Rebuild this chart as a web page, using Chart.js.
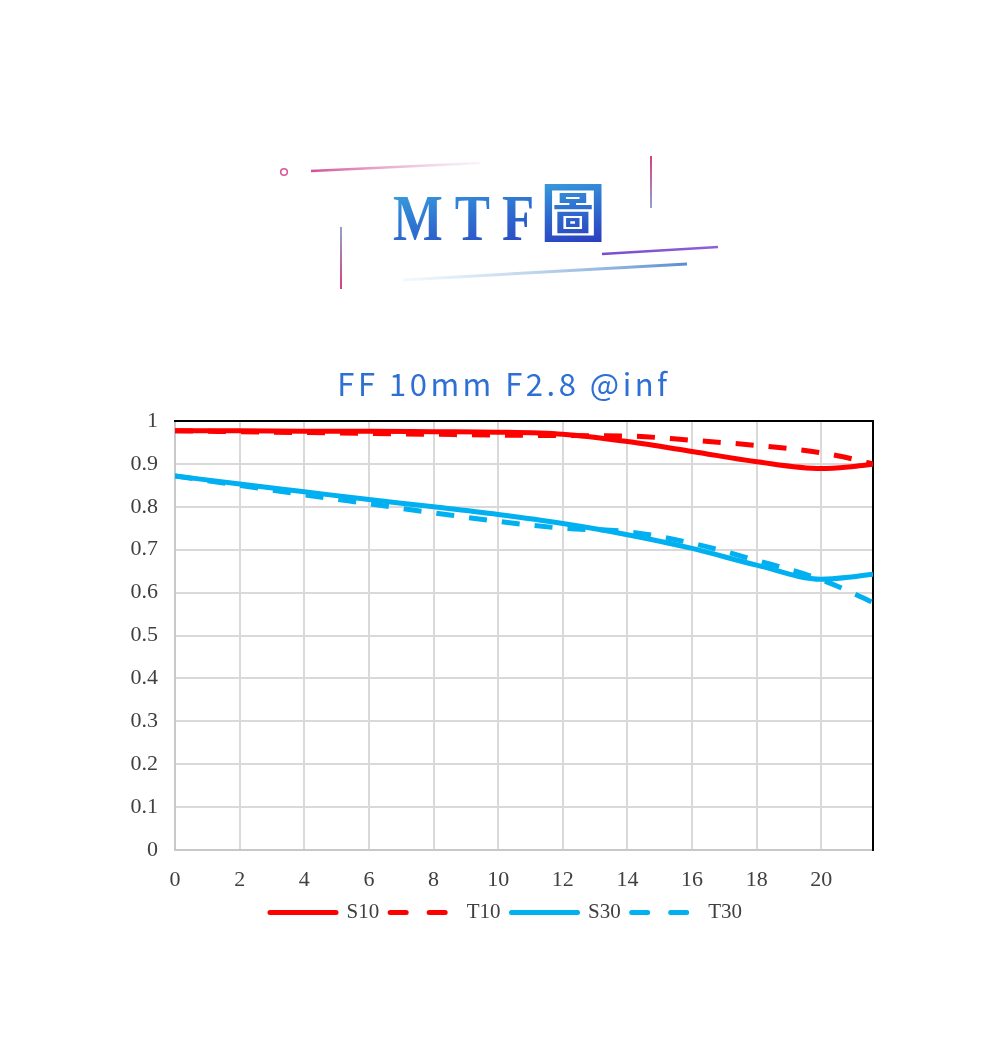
<!DOCTYPE html>
<html><head><meta charset="utf-8">
<script src="https://cdn.jsdelivr.net/npm/chart.js@4.4.1/dist/chart.umd.min.js"></script>
<style>
html,body{margin:0;padding:0;background:#fff;}
body{width:1000px;height:1054px;position:relative;overflow:hidden;}
#deco{position:absolute;left:0;top:0;}
.gt{position:absolute;white-space:nowrap;line-height:1;
  background:linear-gradient(170deg,#3aa6de 0%,#2f74d2 45%,#2a3cbf 100%);
  -webkit-background-clip:text;background-clip:text;color:transparent;}
#mtf{left:393px;top:185px;font-family:'Liberation Serif',serif;font-weight:bold;font-size:66px;letter-spacing:15px;transform:scaleX(0.8);transform-origin:left top;}
#tu{left:540px;top:176px;font-family:'Noto Sans CJK TC',sans-serif;font-weight:700;font-size:66px;}
#ttl{position:absolute;left:4px;top:367px;width:1000px;text-align:center;line-height:31px;white-space:nowrap;
  font-family:'Noto Sans CJK TC','Noto Sans',sans-serif;font-size:31px;letter-spacing:3.5px;color:#2d6fd4;}
#wrap{position:absolute;left:0;top:350px;width:1000px;height:600px;}
</style></head>
<body>
<svg id="deco" width="1000" height="350">
<defs>
<linearGradient id="g1" gradientUnits="userSpaceOnUse" x1="311" y1="171" x2="480" y2="163"><stop offset="0" stop-color="#d64d96"/><stop offset="1" stop-color="#ece4f2" stop-opacity="0.4"/></linearGradient>
<linearGradient id="g2" gradientUnits="userSpaceOnUse" x1="651" y1="156" x2="651" y2="208"><stop offset="0" stop-color="#dc3f7c"/><stop offset="1" stop-color="#8fa2cc"/></linearGradient>
<linearGradient id="g3" gradientUnits="userSpaceOnUse" x1="341" y1="227" x2="341" y2="289"><stop offset="0" stop-color="#8fa2cc"/><stop offset="1" stop-color="#dc3f7c"/></linearGradient>
<linearGradient id="g4" gradientUnits="userSpaceOnUse" x1="602" y1="254" x2="718" y2="247"><stop offset="0" stop-color="#7a4ccc"/><stop offset="1" stop-color="#9060d8"/></linearGradient>
<linearGradient id="g5" gradientUnits="userSpaceOnUse" x1="403" y1="280" x2="687" y2="264"><stop offset="0" stop-color="#e6f3f8" stop-opacity="0.5"/><stop offset="1" stop-color="#5a8dd0"/></linearGradient>
</defs>
<circle cx="284" cy="172" r="3.3" fill="none" stroke="#d65a9e" stroke-width="1.6"/>
<line x1="311" y1="171" x2="480" y2="163" stroke="url(#g1)" stroke-width="2.5"/>
<line x1="651" y1="156" x2="651" y2="208" stroke="url(#g2)" stroke-width="2"/>
<line x1="341" y1="227" x2="341" y2="289" stroke="url(#g3)" stroke-width="2"/>
<line x1="602" y1="254" x2="718" y2="247" stroke="url(#g4)" stroke-width="2.5"/>
<line x1="403" y1="280" x2="687" y2="264" stroke="url(#g5)" stroke-width="3"/>
</svg>
<div id="mtf" class="gt">MTF</div>
<div id="tu" class="gt">圖</div>
<div id="wrap"><canvas id="c" width="1000" height="600"></canvas></div>
<div id="ttl"></div>
<script>
const chartTitle = 'FF 10mm F2.8 @inf';
const seriesNames = ['S10','T10','S30','T30'];
const fieldX = [0, 2, 4, 6, 8, 10, 12, 14, 16, 18, 20, 21, 21.6];
const s10 = [0.977, 0.977, 0.976, 0.976, 0.975, 0.974, 0.969, 0.952, 0.929, 0.905, 0.889, 0.894, 0.899];
const t10 = [0.977, 0.975, 0.973, 0.971, 0.969, 0.967, 0.966, 0.965, 0.955, 0.943, 0.926, 0.911, 0.900];
const s30 = [0.872, 0.853, 0.835, 0.817, 0.800, 0.782, 0.761, 0.735, 0.703, 0.664, 0.631, 0.637, 0.643];
const t30 = [0.872, 0.850, 0.828, 0.807, 0.786, 0.766, 0.750, 0.742, 0.715, 0.675, 0.630, 0.598, 0.577];
const xTickValues = [0, 2, 4, 6, 8, 10, 12, 14, 16, 18, 20];
const yTickValues = [0, 0.1, 0.2, 0.3, 0.4, 0.5, 0.6, 0.7, 0.8, 0.9, 1];
const xMax = 21.6;

document.getElementById('ttl').textContent = chartTitle;

const RED = '#ff0000', BLUE = '#00b0f0';
const tickFont = {family: "'Liberation Serif', serif", size: 22};
const legendFont = {family: "'Liberation Serif', serif", size: 21};
const pts = arr => fieldX.map((x, i) => ({x: x, y: arr[i]}));
const mk = (label, arr, color, dashed) => ({
  label: label, data: pts(arr), borderColor: color, backgroundColor: color,
  borderWidth: 5, pointRadius: 0, pointHoverRadius: 0, fill: false,
  cubicInterpolationMode: 'monotone', borderDash: dashed ? [18, 15] : [],
  borderCapStyle: 'butt'
});

new Chart(document.getElementById('c'), {
  type: 'line',
  data: {datasets: [
    mk(seriesNames[0], s10, RED, false),
    mk(seriesNames[1], t10, RED, true),
    mk(seriesNames[2], s30, BLUE, false),
    mk(seriesNames[3], t30, BLUE, true)
  ]},
  options: {
    responsive: false, animation: false,
    layout: {padding: {left: 12, right: 0, top: 71, bottom: 17}},
    plugins: {
      tooltip: {enabled: false},
      title: {display: false},
      legend: {position: 'bottom',
        labels: {usePointStyle: true, pointStyle: 'line', pointStyleWidth: 66,
          padding: 11, color: '#404040', font: legendFont,
          generateLabels: (chart) => {
            const items = Chart.defaults.plugins.legend.labels.generateLabels(chart);
            items.forEach(it => {
              const ds = chart.data.datasets[it.datasetIndex];
              it.lineCap = 'round';
              it.lineWidth = 5;
              it.lineDash = (ds.borderDash && ds.borderDash.length) ? [16, 23] : [];
            });
            return items;
          }}}
    },
    scales: {
      x: {type: 'linear', position: 'bottom', min: 0, max: xMax,
        afterBuildTicks: s => { s.ticks = xTickValues.map(v => ({value: v})); },
        afterFit: s => { s.height = 41; },
        grid: {color: '#d9d9d9', lineWidth: 2, drawTicks: false},
        border: {color: '#c8c8c8', width: 2},
        ticks: {color: '#404040', font: tickFont, padding: 17, maxRotation: 0, autoSkip: false}},
      y: {type: 'linear', position: 'left', min: 0, max: 1,
        afterBuildTicks: s => { s.ticks = yTickValues.map(v => ({value: v})); },
        afterFit: s => { s.width = 163; },
        grid: {color: '#d9d9d9', lineWidth: 2, drawTicks: false},
        border: {color: '#c8c8c8', width: 2},
        ticks: {color: '#404040', font: tickFont, padding: 17,
          callback: v => String(Math.round(v * 10) / 10)}},
      x2: {type: 'linear', position: 'top', min: 0, max: xMax, z: 1,
        afterFit: s => { s.height = 0; },
        grid: {display: false, drawTicks: false}, ticks: {display: false},
        border: {color: '#000000', width: 2}},
      y2: {type: 'linear', position: 'right', min: 0, max: 1, z: 1,
        afterFit: s => { s.width = 127; },
        grid: {display: false, drawTicks: false}, ticks: {display: false},
        border: {color: '#000000', width: 2}}
    }
  }
});
</script>
</body></html>
